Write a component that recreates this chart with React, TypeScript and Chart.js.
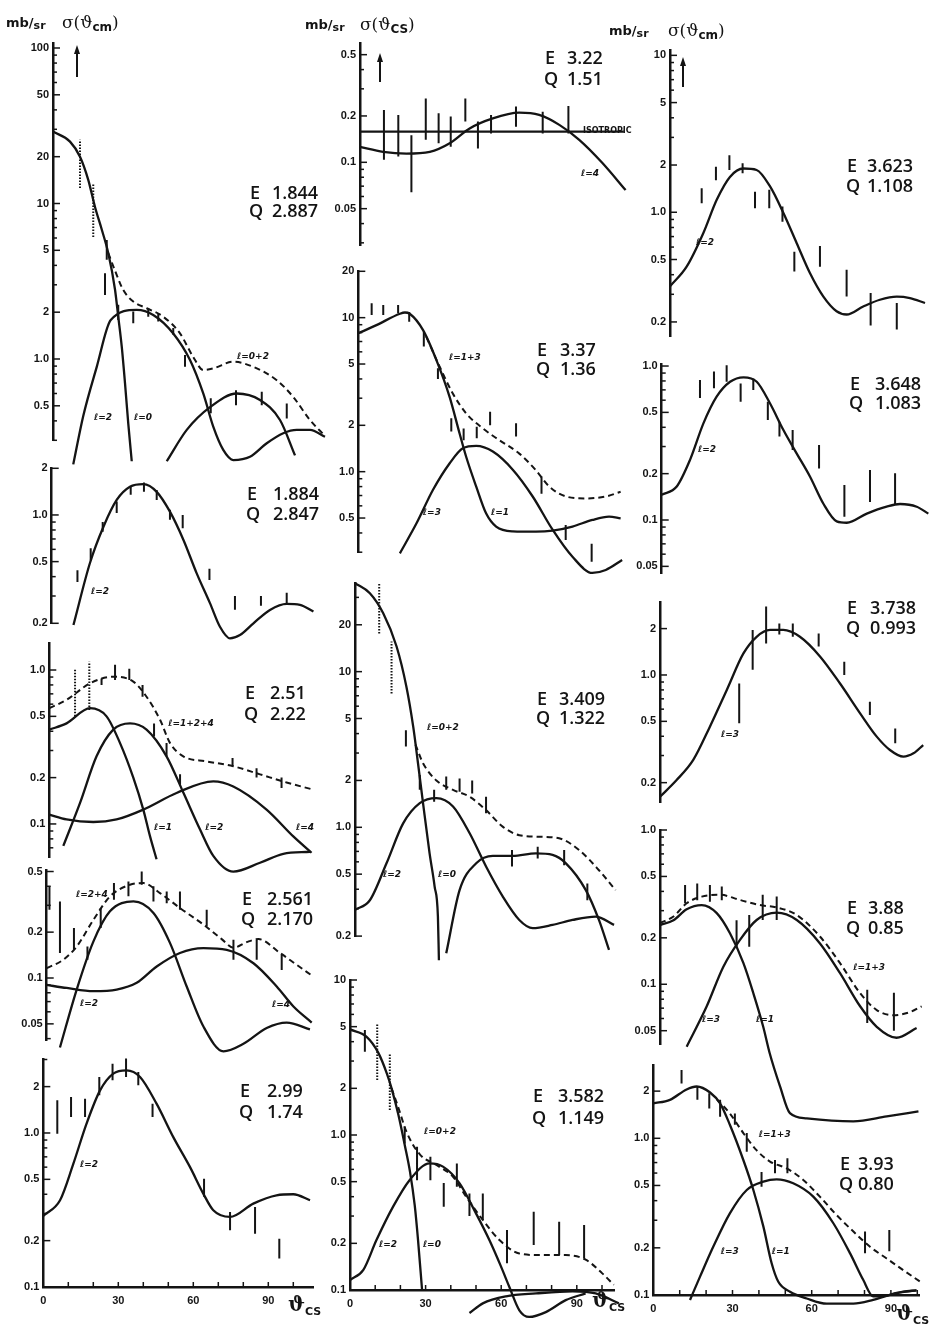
import React, { useEffect, useRef } from 'react';
import { Chart, registerables } from 'chart.js';
Chart.register(...registerables);

type Pt = number[];
type Err = number[];

// ---------- shared axis values ----------
const xTickVals = [0, 10, 20, 30, 40, 50, 60, 70, 80, 90, 100];
const xTickLabels = [0, 30, 60, 90];

// ---------- panel 1 : E 1.844 ----------
const p1_l0: Pt[] = [[0, 29], [6.8, 25], [10.8, 20], [14.1, 14.2], [16.8, 9.5], [19.5, 6.8], [22.1, 4.8], [24.8, 2.8], [26.1, 1.87], [27.5, 1.2], [28.8, 0.7], [30.1, 0.385], [31.5, 0.22]];
const p1_l2: Pt[] = [[8.1, 0.21], [12.1, 0.43], [17.5, 0.89], [23.1, 1.78], [33.5, 2.07], [40.1, 1.92], [48.1, 1.46], [54.8, 0.985], [60.1, 0.6], [64.1, 0.367], [68.1, 0.26], [72.1, 0.224], [78.8, 0.235], [85.5, 0.287], [92.1, 0.333], [97.5, 0.35], [102.8, 0.35], [108.8, 0.316]];
const p1_l0b: Pt[] = [[45.5, 0.22], [53.5, 0.35], [62.8, 0.49], [73.5, 0.6], [82.8, 0.545], [90.8, 0.405], [96.8, 0.24]];
const p1_sum: Pt[] = [[22.1, 4.8], [24.8, 3.7], [28.1, 2.78], [32.1, 2.34], [37.5, 2.12], [44.1, 1.87], [50.8, 1.46], [56.1, 1.03], [60.1, 0.85], [64.1, 0.87], [72.1, 0.96], [80.1, 0.89], [89.5, 0.73], [96.1, 0.57], [102.8, 0.405], [108.8, 0.32]];
const p1_errDot: Err[] = [[10.8, 12.6, 25.7], [16.1, 6.1, 13.5]];
const p1_err: Err[] = [[21.5, 4.34, 5.83], [20.8, 2.58, 3.56], [26.1, 1.78, 2.23], [32.1, 1.7, 2.02], [38.1, 1.87, 2.12], [42.1, 1.74, 1.97], [48.1, 1.43, 1.58], [52.8, 0.89, 1.06], [63.1, 0.447, 0.56], [73.2, 0.505, 0.63], [83.5, 0.505, 0.616], [93.5, 0.415, 0.518]];

// ---------- panel 2 : E 1.884 ----------
const p2_l2: Pt[] = [[8.7, 0.195], [15.3, 0.49], [20.7, 0.84], [26, 1.25], [31.3, 1.52], [36.7, 1.58], [42, 1.41], [47.3, 1.05], [52.7, 0.69], [58, 0.42], [63.3, 0.27], [67.3, 0.19], [71.3, 0.16], [75.3, 0.168], [80.7, 0.2], [87.3, 0.244], [94, 0.267], [99.3, 0.263], [104.7, 0.238]];
const p2_err: Err[] = [[10.3, 0.37, 0.44], [15.6, 0.51, 0.61], [20.4, 0.78, 0.9], [26, 1.03, 1.22], [31.6, 1.35, 1.52], [36.9, 1.41, 1.62], [42, 1.25, 1.45], [47.3, 0.93, 1.08], [52.4, 0.82, 1.0], [63.1, 0.38, 0.45], [73.3, 0.245, 0.3], [83.7, 0.26, 0.3], [94, 0.267, 0.315]];

// ---------- panel 3 : E 2.51 ----------
const p3_l1: Pt[] = [[0, 0.41], [6.9, 0.45], [16.3, 0.565], [22.9, 0.5], [28.3, 0.335], [33.6, 0.2], [37.6, 0.124], [40.3, 0.083], [42.9, 0.059]];
const p3_l2: Pt[] = [[5.6, 0.072], [12.3, 0.137], [18.9, 0.275], [25.6, 0.41], [32.3, 0.45], [38.9, 0.41], [46.9, 0.275], [53.6, 0.16], [60.3, 0.092], [65.6, 0.062], [73.6, 0.049], [84.3, 0.056], [93.6, 0.064], [104.3, 0.066]];
const p3_l4: Pt[] = [[0, 0.115], [6.9, 0.107], [17.6, 0.103], [26.9, 0.107], [37.6, 0.124], [50.9, 0.159], [65.6, 0.189], [73.6, 0.175], [86.9, 0.124], [97.6, 0.083], [104.9, 0.065]];
const p3_sum: Pt[] = [[0, 0.565], [6.9, 0.64], [16.3, 0.82], [25.6, 0.905], [33.6, 0.84], [38.9, 0.67], [44.3, 0.475], [48.3, 0.335], [53.6, 0.275], [62.9, 0.255], [73.6, 0.237], [84.3, 0.21], [94.9, 0.186], [105.6, 0.167]];
const p3_errDot: Err[] = [[10.3, 0.5, 1.02], [16, 0.55, 1.13]];
const p3_err: Err[] = [[20.9, 0.8, 0.88], [26.3, 0.86, 1.08], [32, 0.86, 1.02], [37.3, 0.67, 0.8], [41.9, 0.37, 0.45], [46.9, 0.275, 0.335], [52.3, 0.18, 0.21], [73.3, 0.237, 0.268], [82.9, 0.2, 0.23], [92.9, 0.171, 0.2]];

// ---------- panel 4 : E 2.561 ----------
const p4_l2: Pt[] = [[5.3, 0.035], [12, 0.084], [18.7, 0.174], [25.3, 0.274], [34.7, 0.318], [42.7, 0.267], [49.3, 0.17], [56, 0.088], [62.7, 0.048], [70.7, 0.033], [78.7, 0.037], [88, 0.047], [96, 0.051], [105.3, 0.046]];
const p4_l4: Pt[] = [[0, 0.09], [8, 0.086], [18.7, 0.082], [28, 0.084], [36, 0.093], [44, 0.119], [53.3, 0.146], [62.7, 0.157], [72, 0.153], [82.7, 0.125], [92, 0.088], [98.7, 0.065], [106, 0.051]];
const p4_sum: Pt[] = [[0, 0.116], [6.7, 0.132], [12, 0.161], [18.7, 0.241], [25.3, 0.343], [33.3, 0.409], [38.7, 0.42], [45.3, 0.361], [53.3, 0.288], [62.7, 0.224], [70, 0.18], [74.7, 0.158], [80, 0.172], [84.7, 0.18], [93.3, 0.146], [100, 0.122], [106, 0.104]];
const p4_err: Err[] = [[1.1, 0.28, 0.4], [5.3, 0.146, 0.318], [10.9, 0.153, 0.213], [16.3, 0.132, 0.161], [21.6, 0.213, 0.288], [26.9, 0.326, 0.42], [32.7, 0.344, 0.43], [38, 0.41, 0.5], [42.7, 0.318, 0.4], [48, 0.31, 0.37], [53.3, 0.28, 0.37], [64, 0.218, 0.281], [74.7, 0.132, 0.178], [84, 0.132, 0.178], [94, 0.113, 0.142]];

// ---------- panel 5 : E 2.99 ----------
const p5_l2: Pt[] = [[0, 0.29], [6.7, 0.366], [12, 0.63], [17.3, 1.15], [22.7, 1.89], [28, 2.43], [33.3, 2.55], [38.7, 2.31], [45.3, 1.55], [52, 0.94], [58.7, 0.6], [64, 0.404], [68, 0.315], [74.7, 0.285], [84, 0.348], [93.3, 0.394], [100, 0.4], [106.7, 0.366]];
const p5_err: Err[] = [[5.6, 0.99, 1.63], [11.1, 1.27, 1.71], [16.7, 1.27, 1.67], [22.4, 1.76, 2.31], [27.7, 2.2, 2.82], [33.1, 2.31, 3.04], [38, 2.04, 2.49], [43.7, 1.27, 1.55], [64.3, 0.385, 0.505], [74.7, 0.234, 0.307], [84.7, 0.222, 0.331], [94.4, 0.153, 0.206]];

// ---------- panel 6 : E 3.22 ----------
const p6_l4: Pt[] = [[0, 0.126], [9.2, 0.117], [18.4, 0.114], [27.7, 0.117], [35.6, 0.133], [43.5, 0.166], [52.7, 0.193], [63.2, 0.21], [71.1, 0.203], [79.1, 0.175], [87, 0.14], [96.2, 0.099], [105.4, 0.066]];
const p6_iso: Pt[] = [[0, 0.158], [104.7, 0.158]];
const p6_err: Err[] = [[9.5, 0.104, 0.219], [15.2, 0.109, 0.203], [20.4, 0.064, 0.15], [26.1, 0.14, 0.26], [31.2, 0.133, 0.208], [36, 0.126, 0.198], [41.8, 0.184, 0.26], [46.8, 0.123, 0.184], [52, 0.154, 0.203], [61.9, 0.17, 0.23], [72.5, 0.154, 0.213], [82.7, 0.154, 0.232]];

// ---------- panel 7 : E 3.37 ----------
const p7_l1: Pt[] = [[0, 7.92], [7.2, 8.94], [16.5, 10.6], [18.5, 10.8], [20.4, 10.6], [25.7, 8.3], [31, 5.3], [36.2, 3.07], [40.2, 1.77], [42.8, 1.25], [46.8, 0.8], [50.7, 0.537], [54.7, 0.44], [61.3, 0.41], [70.5, 0.408], [77.1, 0.414], [85, 0.44], [92.9, 0.486], [99.5, 0.51], [104.1, 0.498]];
const p7_l3: Pt[] = [[16.5, 0.295], [23.1, 0.462], [29.6, 0.76], [36.2, 1.13], [41.5, 1.42], [46.8, 1.47], [53.4, 1.35], [61.3, 1.03], [69.2, 0.69], [77.1, 0.42], [85, 0.28], [92.9, 0.22], [98.2, 0.23], [104.7, 0.267]];
const p7_sum: Pt[] = [[27, 7.5], [32.3, 4.8], [37.5, 3.22], [42.8, 2.39], [49.4, 1.91], [56, 1.6], [63.9, 1.31], [70.5, 1.02], [75.8, 0.8], [82.4, 0.69], [90.3, 0.67], [98.2, 0.69], [104.1, 0.74]];
const p7_err: Err[] = [[5.3, 10.4, 12.4], [9.9, 10.4, 12.1], [15.8, 10.7, 12.1], [20.2, 9.4, 10.9], [26, 6.5, 8.1], [31.6, 4.0, 4.7], [36.9, 1.82, 2.22], [41.8, 1.6, 1.91], [47, 1.65, 1.96], [52.3, 2.0, 2.45], [62.6, 1.69, 2.06], [72.7, 0.72, 0.93], [82.3, 0.36, 0.45], [92.6, 0.26, 0.34]];

// ---------- panel 8 : E 3.409 ----------
const p8_l0: Pt[] = [[0, 37], [5.9, 31.9], [11.2, 23.7], [16.5, 14.5], [20.4, 8.0], [23.1, 4.43], [25, 2.58], [27, 1.43], [29.6, 0.68], [31.6, 0.416], [32.9, 0.267], [33.3, 0.14]];
const p8_l2: Pt[] = [[0, 0.295], [5.9, 0.34], [12.5, 0.587], [19.1, 1.06], [25.7, 1.43], [32.3, 1.54], [38.9, 1.36], [45.5, 0.915], [52, 0.56], [58.6, 0.36], [65.2, 0.254], [70.5, 0.225], [78.4, 0.236], [86.3, 0.254], [95.5, 0.267], [102.8, 0.236]];
const p8_l0b: Pt[] = [[36.2, 0.155], [41.5, 0.395], [48.1, 0.587], [54.7, 0.655], [62.6, 0.655], [71.8, 0.68], [78.4, 0.665], [83.7, 0.587], [91.6, 0.395], [96.8, 0.254], [100.8, 0.163]];
const p8_sum: Pt[] = [[24, 3.4], [27, 2.58], [32.3, 2.0], [38.9, 1.74], [45.5, 1.57], [52, 1.29], [58.6, 1.01], [65.2, 0.89], [73.1, 0.87], [81, 0.85], [88.9, 0.715], [96.8, 0.53], [103.4, 0.395]];
const p8_errDot: Err[] = [[9.6, 17.6, 37], [14.5, 7.25, 15.6]];
const p8_err: Err[] = [[20.2, 3.3, 4.2], [25.7, 1.74, 2.17], [31.4, 1.46, 1.74], [36.2, 1.74, 2.12], [41.5, 1.69, 2.06], [46.5, 1.65, 2.0], [52, 1.23, 1.57], [62.3, 0.56, 0.715], [72.5, 0.63, 0.75], [83, 0.57, 0.715], [92.2, 0.34, 0.436]];

// ---------- panel 9 : E 3.582 ----------
const p9_l0: Pt[] = [[0, 4.8], [6.6, 4.3], [11.2, 3.4], [14.6, 2.5], [16.5, 2.0], [19.2, 1.35], [21.8, 0.85], [23.8, 0.58], [25.7, 0.35], [27, 0.21], [28.6, 0.1]];
const p9_l2: Pt[] = [[0, 0.116], [5.3, 0.135], [10.5, 0.21], [17.1, 0.345], [23.7, 0.513], [31.6, 0.656], [36.9, 0.625], [43.5, 0.488], [50, 0.312], [55.3, 0.21], [59.9, 0.142], [63.2, 0.105], [67.2, 0.074], [71.1, 0.067], [77.7, 0.072], [85.6, 0.086], [93.5, 0.095]];
const p9_l0b: Pt[] = [[47.4, 0.071], [52.7, 0.082], [61.9, 0.091], [73.8, 0.095], [88.3, 0.098], [97.5, 0.095], [106.7, 0.082]];
const p9_sum: Pt[] = [[16.5, 2.0], [19.2, 1.5], [22.4, 1.05], [27.7, 0.75], [34.3, 0.64], [40.8, 0.54], [46.1, 0.4], [52.7, 0.283], [59.3, 0.21], [67.2, 0.172], [75.1, 0.168], [85.6, 0.168], [93.5, 0.157], [100.1, 0.128], [104.7, 0.108]];
const p9_errDot: Err[] = [[10.8, 2.26, 5.25], [15.8, 1.45, 3.36]];
const p9_err: Err[] = [[5.9, 3.45, 4.76], [21.7, 0.88, 1.13], [26.6, 0.51, 0.84], [31.9, 0.51, 0.725], [37.2, 0.345, 0.49], [42.4, 0.464, 0.656], [47.4, 0.3, 0.42], [52.7, 0.283, 0.42], [62.3, 0.149, 0.244], [72.9, 0.195, 0.32], [83, 0.168, 0.276], [92.9, 0.16, 0.263]];

// ---------- panel 10 : E 3.623 ----------
const p10_l2: Pt[] = [[0, 0.337], [6.3, 0.45], [12.6, 0.735], [17.7, 1.2], [22.7, 1.68], [27.8, 1.9], [32.8, 1.86], [37.9, 1.46], [43, 0.985], [48, 0.635], [53, 0.41], [58.1, 0.29], [63.1, 0.234], [66.9, 0.223], [73.2, 0.251], [79.5, 0.277], [85.9, 0.29], [90.9, 0.284], [96.6, 0.264]];
const p10_err: Err[] = [[12, 1.14, 1.42], [17.4, 1.6, 1.95], [22.5, 1.86, 2.31], [27.5, 1.77, 2.05], [32.2, 1.06, 1.35], [37.6, 1.06, 1.39], [42.6, 0.87, 1.09], [47.1, 0.42, 0.56], [56.8, 0.45, 0.61], [66.9, 0.29, 0.43], [76, 0.19, 0.306], [85.9, 0.179, 0.264]];

// ---------- panel 11 : E 3.648 ----------
const p11_l2: Pt[] = [[0, 0.146], [5.7, 0.165], [10.7, 0.245], [15.8, 0.424], [20.8, 0.632], [25.9, 0.79], [31, 0.845], [36, 0.79], [41, 0.573], [46.1, 0.384], [51.1, 0.271], [56.2, 0.191], [61.2, 0.128], [66.3, 0.098], [70.1, 0.096], [77.7, 0.11], [85.2, 0.122], [90.3, 0.127], [96.6, 0.122], [101, 0.11]];
const p11_err: Err[] = [[14.5, 0.62, 0.81], [19.8, 0.716, 0.92], [24.6, 0.79, 1.01], [29.9, 0.587, 0.77], [34.7, 0.7, 0.83], [40.2, 0.446, 0.587], [44.6, 0.348, 0.435], [49.6, 0.285, 0.384], [59.6, 0.216, 0.307], [69.2, 0.105, 0.169], [78.9, 0.131, 0.211], [88.4, 0.125, 0.201]];

// ---------- panel 12 : E 3.738 ----------
const p12_l3: Pt[] = [[0, 0.162], [6.3, 0.208], [12.6, 0.281], [18.9, 0.462], [25.3, 0.8], [31.6, 1.38], [36.6, 1.77], [41.7, 1.96], [46.7, 1.96], [53, 1.77], [60.6, 1.32], [68.2, 0.88], [75.8, 0.564], [82.1, 0.398], [87.1, 0.326], [92.2, 0.295], [96, 0.31], [99.7, 0.351]];
const p12_err: Err[] = [[30, 0.486, 0.88], [35.1, 1.08, 1.96], [40.2, 1.6, 2.78], [45.2, 1.83, 2.16], [50.3, 1.77, 2.16], [60.1, 1.53, 1.86], [69.8, 1.0, 1.22], [79.5, 0.55, 0.67], [89.1, 0.36, 0.45]];

// ---------- panel 13 : E 3.88 ----------
const p13_l1: Pt[] = [[0, 0.242], [5.1, 0.26], [10.1, 0.306], [15.8, 0.326], [21.5, 0.289], [26.5, 0.214], [31.6, 0.137], [35.4, 0.087], [39.1, 0.053], [41.5, 0.036], [45.5, 0.0217], [49.2, 0.0146], [55.6, 0.0135], [73.2, 0.0129], [85.9, 0.0139], [97.9, 0.015]];
const p13_l3: Pt[] = [[10.1, 0.0394], [17.7, 0.072], [24, 0.13], [30.3, 0.194], [36.6, 0.261], [44.2, 0.291], [51.8, 0.261], [60.6, 0.184], [68.2, 0.118], [75.8, 0.072], [82.1, 0.053], [89.6, 0.045], [97.2, 0.052]];
const p13_sum: Pt[] = [[0, 0.249], [5.1, 0.275], [10.1, 0.335], [15.8, 0.37], [22.7, 0.38], [30.3, 0.352], [37.9, 0.326], [44.2, 0.315], [51.8, 0.281], [60.6, 0.204], [68.2, 0.137], [75.8, 0.0875], [82.1, 0.068], [88.4, 0.063], [94.7, 0.066], [99.1, 0.072]];
const p13_err: Err[] = [[9.5, 0.335, 0.44], [14.1, 0.35, 0.45], [18.9, 0.343, 0.44], [23.4, 0.35, 0.43], [29, 0.175, 0.26], [33.8, 0.175, 0.281], [38.9, 0.261, 0.38], [44.2, 0.261, 0.37], [78.5, 0.056, 0.092], [88.6, 0.05, 0.088]];

// ---------- panel 14 : E 3.93 ----------
const p14_l1: Pt[] = [[0, 1.67], [6.3, 1.76], [12.6, 2.05], [16.4, 2.14], [21.5, 1.96], [25.3, 1.67], [29, 1.22], [34.1, 0.727], [37.9, 0.468], [41.7, 0.273], [44.8, 0.16], [47.3, 0.122], [51.8, 0.105], [58.1, 0.095], [65.7, 0.088], [75.8, 0.088], [83.3, 0.093], [92.2, 0.103], [99.7, 0.107]];
const p14_l3: Pt[] = [[13.9, 0.093], [17.7, 0.131], [22.7, 0.203], [29, 0.332], [35.4, 0.468], [41.7, 0.529], [46.7, 0.547], [53, 0.516], [60.6, 0.424], [68.2, 0.287], [74.5, 0.185], [79.5, 0.125], [83.3, 0.098], [88.4, 0.099], [94.7, 0.105], [99.7, 0.107]];
const p14_sum: Pt[] = [[24, 1.78], [29, 1.44], [34.1, 1.08], [39.1, 0.84], [44.2, 0.71], [50.5, 0.643], [56.8, 0.542], [63.1, 0.424], [69.4, 0.324], [75.8, 0.254], [82.1, 0.203], [88.4, 0.171], [94.7, 0.144], [101, 0.122]];
const p14_err: Err[] = [[10.7, 2.24, 2.73], [16.7, 1.76, 2.14], [21.2, 1.55, 1.94], [25.3, 1.37, 1.76], [30.9, 1.22, 1.44], [35.4, 0.82, 1.08], [41, 0.49, 0.61], [46.1, 0.598, 0.727], [50.8, 0.598, 0.745], [80.2, 0.185, 0.254], [89.4, 0.19, 0.26]];

// ---------- E / Q values ----------
const energies = ['1.844', '1.884', '2.51', '2.561', '2.99', '3.22', '3.37', '3.409', '3.582', '3.623', '3.648', '3.738', '3.88', '3.93'];
const qValues = ['2.887', '2.847', '2.22', '2.170', '1.74', '1.51', '1.36', '1.322', '1.149', '1.108', '1.083', '0.993', '0.85', '0.80'];

// ---------- y tick labels ----------
const yl_p1: [number, string][] = [[100, '100'], [50, '50'], [20, '20'], [10, '10'], [5, '5'], [2, '2'], [1, '1.0'], [0.5, '0.5']];
const yl_2to02: [number, string][] = [[2, '2'], [1, '1.0'], [0.5, '0.5'], [0.2, '0.2']];
const yl_1to01: [number, string][] = [[1, '1.0'], [0.5, '0.5'], [0.2, '0.2'], [0.1, '0.1']];
const yl_05to005: [number, string][] = [[0.5, '0.5'], [0.2, '0.2'], [0.1, '0.1'], [0.05, '0.05']];
const yl_2to01: [number, string][] = [[2, '2'], [1, '1.0'], [0.5, '0.5'], [0.2, '0.2'], [0.1, '0.1']];
const yl_20to05: [number, string][] = [[20, '20'], [10, '10'], [5, '5'], [2, '2'], [1, '1.0'], [0.5, '0.5']];
const yl_20to02: [number, string][] = [[20, '20'], [10, '10'], [5, '5'], [2, '2'], [1, '1.0'], [0.5, '0.5'], [0.2, '0.2']];
const yl_10to01: [number, string][] = [[10, '10'], [5, '5'], [2, '2'], [1, '1.0'], [0.5, '0.5'], [0.2, '0.2'], [0.1, '0.1']];
const yl_10to02: [number, string][] = [[10, '10'], [5, '5'], [2, '2'], [1, '1.0'], [0.5, '0.5'], [0.2, '0.2']];
const yl_1to005: [number, string][] = [[1, '1.0'], [0.5, '0.5'], [0.2, '0.2'], [0.1, '0.1'], [0.05, '0.05']];

type Lab = [string, number, number, string?];
interface PanelCfg {
  left: number; top: number; bottom: number; ppd: number; xmax: number;
  ymin: number; ymax: number; yLabels: [number, string][]; xAxis: boolean;
  solid: Pt[][]; dashed: Pt[][]; err: Err[]; errDot: Err[]; labels: Lab[];
  eq: number[]; idx: number; below?: number;
}

const panels: PanelCfg[] = [
  { idx: 0, left: 53, top: 42.8, bottom: 440.3, ppd: 2.5, xmax: 108, ymin: 0.3, ymax: 108, yLabels: yl_p1, xAxis: false,
    solid: [p1_l0, p1_l2, p1_l0b], dashed: [p1_sum], err: p1_err, errDot: p1_errDot,
    labels: [['ℓ=2', 20, 0.42], ['ℓ=0', 36, 0.42], ['ℓ=0+2', 80, 1.03]], eq: [250, 272, 192, 210] },
  { idx: 1, left: 51.7, top: 468.3, bottom: 623.3, ppd: 2.5, xmax: 108, ymin: 0.2, ymax: 2, yLabels: yl_2to02, xAxis: false,
    solid: [p2_l2], dashed: [], err: p2_err, errDot: [],
    labels: [['ℓ=2', 19.3, 0.32]], eq: [247, 273, 493, 513] },
  { idx: 2, left: 49.3, top: 642.9, bottom: 857, ppd: 2.5, xmax: 108, ymin: 0.061, ymax: 1.5, yLabels: yl_1to01, xAxis: false,
    solid: [p3_l1, p3_l2, p3_l4], dashed: [p3_sum], err: p3_err, errDot: p3_errDot,
    labels: [['ℓ=1+2+4', 56.7, 0.45], ['ℓ=1', 45.5, 0.094], ['ℓ=2', 66, 0.094], ['ℓ=4', 102.3, 0.094]], eq: [245, 270, 692, 713] },
  { idx: 3, left: 46.7, top: 870.2, bottom: 1040.3, ppd: 2.5, xmax: 108, ymin: 0.039, ymax: 0.51, yLabels: yl_05to005, xAxis: false,
    solid: [p4_l2, p4_l4], dashed: [p4_sum], err: p4_err, errDot: [],
    labels: [['ℓ=2+4', 18.1, 0.351], ['ℓ=2', 16.9, 0.0675], ['ℓ=4', 93.7, 0.0665]], eq: [242, 267, 898, 918] },
  { idx: 4, left: 43.3, top: 1059.5, bottom: 1287, ppd: 2.5, xmax: 108, ymin: 0.1, ymax: 3, yLabels: yl_2to01, xAxis: true,
    solid: [p5_l2], dashed: [], err: p5_err, errDot: [],
    labels: [['ℓ=2', 18.3, 0.62]], eq: [240, 267, 1090, 1111] },
  { idx: 5, left: 360, top: 43.6, bottom: 245.1, ppd: 2.52, xmax: 105, ymin: 0.029, ymax: 0.59, yLabels: yl_05to005, xAxis: false,
    solid: [p6_l4, p6_iso], dashed: [], err: p6_err, errDot: [],
    labels: [['ℓ=4', 91.3, 0.085], ['ISOTROPIC', 88.5, 0.158, 'iso']], eq: [545, 567, 57, 78] },
  { idx: 6, left: 358.3, top: 271.3, bottom: 552.2, ppd: 2.52, xmax: 105, ymin: 0.3, ymax: 20, yLabels: yl_20to05, xAxis: false,
    solid: [p7_l1, p7_l3], dashed: [p7_sum], err: p7_err, errDot: [],
    labels: [['ℓ=1+3', 42.3, 5.47], ['ℓ=3', 29.2, 0.54], ['ℓ=1', 56.2, 0.54]], eq: [537, 560, 349, 368] },
  { idx: 7, left: 355, top: 583.2, bottom: 936.1, ppd: 2.52, xmax: 105, ymin: 0.2, ymax: 37, yLabels: yl_20to02, xAxis: false,
    solid: [p8_l0, p8_l2, p8_l0b], dashed: [p8_sum], err: p8_err, errDot: p8_errDot,
    labels: [['ℓ=0+2', 34.9, 4.34], ['ℓ=2', 14.7, 0.5], ['ℓ=0', 36.5, 0.5]], eq: [537, 559, 698, 717] },
  { idx: 8, left: 350, top: 980, bottom: 1290, ppd: 2.52, xmax: 105, ymin: 0.1, ymax: 10, yLabels: yl_10to01, xAxis: true,
    solid: [p9_l0, p9_l2, p9_l0b], dashed: [p9_sum], err: p9_err, errDot: p9_errDot,
    labels: [['ℓ=0+2', 35.7, 1.05], ['ℓ=2', 15.1, 0.195], ['ℓ=0', 32.5, 0.195]], eq: [533, 558, 1095, 1117] },
  { idx: 9, left: 670, top: 50.1, bottom: 336.3, ppd: 2.64, xmax: 101, ymin: 0.162, ymax: 10.8, yLabels: yl_10to02, xAxis: false,
    solid: [p10_l2], dashed: [], err: p10_err, errDot: [],
    labels: [['ℓ=2', 13.3, 0.64]], eq: [847, 867, 165, 185] },
  { idx: 10, left: 661.7, top: 364.7, bottom: 573.4, ppd: 2.64, xmax: 101, ymin: 0.045, ymax: 1.02, yLabels: yl_1to005, xAxis: false,
    solid: [p11_l2], dashed: [], err: p11_err, errDot: [],
    labels: [['ℓ=2', 17.2, 0.285]], eq: [850, 875, 383, 402] },
  { idx: 11, left: 660, top: 602.6, bottom: 802.8, ppd: 2.64, xmax: 101, ymin: 0.148, ymax: 2.95, yLabels: yl_2to02, xAxis: false,
    solid: [p12_l3], dashed: [], err: p12_err, errDot: [],
    labels: [['ℓ=3', 26.5, 0.41]], eq: [847, 870, 607, 627] },
  { idx: 12, left: 660, top: 830, bottom: 1044, ppd: 2.64, xmax: 101, ymin: 0.041, ymax: 1.0, yLabels: yl_1to005, xAxis: false,
    solid: [p13_l1, p13_l3], dashed: [p13_sum], err: p13_err, errDot: [], below: 100,
    labels: [['ℓ=1+3', 79.2, 0.129], ['ℓ=3', 19.3, 0.0587], ['ℓ=1', 39.8, 0.0587]], eq: [847, 868, 907, 927] },
  { idx: 13, left: 653.3, top: 1064.9, bottom: 1295, ppd: 2.64, xmax: 101, ymin: 0.1, ymax: 2.94, yLabels: yl_2to01, xAxis: true,
    solid: [p14_l1, p14_l3], dashed: [p14_sum], err: p14_err, errDot: [],
    labels: [['ℓ=1+3', 46, 1.05], ['ℓ=3', 29, 0.188], ['ℓ=1', 48.3, 0.188]], eq: [840, 858, 1163, 1183] },
];

const INK = '#141414';

function logTicks(min: number, max: number) {
  const out: number[] = [];
  for (let e = Math.floor(Math.log10(min)); e <= Math.ceil(Math.log10(max)); e++) {
    for (let m = 1; m <= 9; m++) {
      const v = +(m * Math.pow(10, e)).toPrecision(6);
      if (v >= min * 0.999 && v <= max * 1.001) out.push(v);
    }
  }
  return out;
}
const findLabel = (list: [number, string][], v: number) => {
  const f = list.find(([lv]) => Math.abs(lv - v) / lv < 1e-6);
  return f ? f[1] : '';
};
const toXY = (c: Pt[]) => c.map(([x, y]) => ({ x, y }));
const toBars = (e: Err[]) => e.flatMap(([x, lo, hi]) => [{ x, y: lo }, { x, y: hi }, { x, y: null as any }]);

function Panel({ cfg }: { cfg: PanelCfg }) {
  const ref = useRef<HTMLCanvasElement>(null);
  const cl = Math.round(cfg.left - 40);
  const ct = Math.round(cfg.top - 14);
  const padL = cfg.left - cl;
  const padT = cfg.top - ct;
  const plotW = cfg.xmax * cfg.ppd;
  const plotH = cfg.bottom - cfg.top;
  const xh = cfg.xAxis ? 26 : 0;
  const W = Math.ceil(padL + plotW + 30);
  const H = Math.ceil(padT + plotH + xh + (cfg.xAxis ? 8 : (cfg.below || 44)));
  const padR = W - padL - plotW;
  const padB = H - padT - plotH - xh;

  useEffect(() => {
    if (!ref.current) return;
    const ds: any[] = [];
    const base = { borderColor: INK, pointRadius: 0, clip: false, fill: false };
    cfg.solid.forEach(c => ds.push({ ...base, data: toXY(c), borderWidth: 2.3, cubicInterpolationMode: 'monotone' }));
    cfg.dashed.forEach(c => ds.push({ ...base, data: toXY(c), borderWidth: 2, borderDash: [6, 4], cubicInterpolationMode: 'monotone' }));
    ds.push({ ...base, data: toBars(cfg.err), borderWidth: 2, tension: 0, spanGaps: false });
    if (cfg.errDot.length) ds.push({ ...base, data: toBars(cfg.errDot), borderWidth: 2, borderDash: [1.5, 1.5], tension: 0, spanGaps: false });

    const annot = {
      id: 'annot',
      afterDraw(chart: any) {
        const { ctx, chartArea, scales } = chart;
        const x = scales.x, y = scales.y;
        ctx.save();
        ctx.strokeStyle = INK;
        ctx.lineWidth = 1.5;
        y.ticks.forEach((t: any) => {
          const py = y.getPixelForValue(t.value);
          const len = findLabel(cfg.yLabels, t.value) ? 7 : 4;
          ctx.beginPath(); ctx.moveTo(chartArea.left, py); ctx.lineTo(chartArea.left + len, py); ctx.stroke();
        });
        if (cfg.xAxis) {
          x.ticks.forEach((t: any) => {
            const px = x.getPixelForValue(t.value);
            ctx.beginPath(); ctx.moveTo(px, chartArea.bottom); ctx.lineTo(px, chartArea.bottom - 5); ctx.stroke();
          });
        }
        ctx.fillStyle = INK;
        cfg.labels.forEach(([txt, lx, ly, kind]) => {
          const px = x.getPixelForValue(lx), py = y.getPixelForValue(ly);
          if (kind === 'iso') {
            ctx.font = 'bold 8px "DejaVu Sans", sans-serif';
            ctx.textAlign = 'left'; ctx.textBaseline = 'alphabetic';
            ctx.fillText(txt, px, py + 1);
          } else {
            ctx.font = 'italic bold 9px "DejaVu Sans", sans-serif';
            ctx.textAlign = 'center'; ctx.textBaseline = 'middle';
            ctx.fillText(txt, px, py);
          }
        });
        ctx.restore();
      },
    };

    const chart = new Chart(ref.current, {
      type: 'line',
      data: { datasets: ds },
      options: {
        responsive: false,
        animation: false,
        devicePixelRatio: 1,
        events: [],
        layout: { padding: { left: 0, top: padT, right: padR, bottom: padB } },
        plugins: { legend: { display: false }, tooltip: { enabled: false } },
        scales: {
          x: {
            type: 'linear', min: 0, max: cfg.xmax, display: cfg.xAxis,
            grid: { display: false, drawTicks: false },
            border: { display: true, color: INK, width: 2.5 },
            afterBuildTicks: (s: any) => { s.ticks = xTickVals.filter(v => v <= cfg.xmax).map(v => ({ value: v })); },
            afterFit: (s: any) => { s.height = xh; },
            ticks: {
              autoSkip: false, maxRotation: 0, padding: 7, color: INK,
              font: { family: '"Liberation Sans", sans-serif', weight: 'bold', size: 11 },
              callback: (v: any) => (xTickLabels.includes(Number(v)) ? String(v) : ''),
            },
          },
          y: {
            type: 'logarithmic', min: cfg.ymin, max: cfg.ymax,
            grid: { display: false, drawTicks: false },
            border: { display: true, color: INK, width: 2.5 },
            afterBuildTicks: (s: any) => { s.ticks = logTicks(cfg.ymin, cfg.ymax).map(v => ({ value: v })); },
            afterFit: (s: any) => { s.width = padL; },
            ticks: {
              autoSkip: false, padding: 4, color: INK,
              font: { family: '"Liberation Sans", sans-serif', weight: 'bold', size: 11 },
              callback: (v: any) => findLabel(cfg.yLabels, Number(v)),
            },
          },
        },
      } as any,
      plugins: [annot],
    });
    return () => chart.destroy();
  }, []);

  return (
    <canvas ref={ref} width={W} height={H}
      style={{ position: 'absolute', left: cl, top: ct, width: W, height: H }} />
  );
}

const eqFont: React.CSSProperties = { position: 'absolute', fontFamily: '"Open Sans", sans-serif', fontWeight: 600, fontSize: 18, lineHeight: '20px', color: INK, whiteSpace: 'nowrap' };
const hdrFont: React.CSSProperties = { position: 'absolute', fontFamily: '"DejaVu Sans", sans-serif', fontWeight: 700, fontSize: 14, lineHeight: '18px', color: INK, whiteSpace: 'nowrap' };

function EQ({ cfg }: { cfg: PanelCfg }) {
  const [xl, xn, ye, yq] = cfg.eq;
  return (
    <>
      <div style={{ ...eqFont, left: xl, top: ye - 10 }}>E</div>
      <div style={{ ...eqFont, left: xn, top: ye - 10 }}>{energies[cfg.idx]}</div>
      <div style={{ ...eqFont, left: xl - 1, top: yq - 10 }}>Q</div>
      <div style={{ ...eqFont, left: xn, top: yq - 10 }}>{qValues[cfg.idx]}</div>
    </>
  );
}

function Header({ x1, x2, y, sub }: { x1: number; x2: number; y: number; sub: string }) {
  return (
    <>
      <div style={{ ...hdrFont, left: x1, top: y - 9, fontSize: 13 }}>mb/<span style={{ fontSize: 11, position: 'relative', top: 2 }}>sr</span></div>
      <div style={{ ...hdrFont, left: x2, top: y - 10, fontSize: 17, fontWeight: 400, fontFamily: '"DejaVu Serif", serif' }}>
        σ(ϑ<span style={{ fontSize: 12, fontWeight: 700, fontFamily: '"DejaVu Sans", sans-serif', position: 'relative', top: 3 }}>{sub}</span>)
      </div>
    </>
  );
}

function Arrow({ x, y1, y2 }: { x: number; y1: number; y2: number }) {
  return (
    <>
      <div style={{ position: 'absolute', left: x - 1, top: y1 + 6, width: 2, height: y2 - y1 - 6, background: INK }} />
      <div style={{ position: 'absolute', left: x - 3.5, top: y1, width: 0, height: 0, borderLeft: '3.5px solid transparent', borderRight: '3.5px solid transparent', borderBottom: '9px solid ' + INK }} />
    </>
  );
}

function ThetaCS({ x, y }: { x: number; y: number }) {
  return (
    <div style={{ position: 'absolute', left: x, top: y, fontFamily: '"DejaVu Serif", serif', fontSize: 20, fontWeight: 700, color: INK, lineHeight: '22px', whiteSpace: 'nowrap' }}>
      ϑ<span style={{ fontFamily: '"DejaVu Sans", sans-serif', fontSize: 11, fontWeight: 700, position: 'relative', top: 4 }}>CS</span>
    </div>
  );
}

export default function App() {
  return (
    <div style={{ position: 'absolute', left: 0, top: 0, width: 929, height: 1330, background: '#fff', overflow: 'hidden' }}>
      {panels.map(p => <Panel key={p.idx} cfg={p} />)}
      {panels.map(p => <EQ key={'eq' + p.idx} cfg={p} />)}
      <Header x1={6} x2={62} y={23} sub="cm" />
      <Header x1={305} x2={360} y={25} sub="CS" />
      <Header x1={609} x2={668} y={31} sub="cm" />
      <Arrow x={77} y1={45} y2={77} />
      <Arrow x={380} y1={53} y2={82} />
      <Arrow x={683} y1={57} y2={87} />
      <ThetaCS x={288} y={1293} />
      <ThetaCS x={592} y={1289} />
      <ThetaCS x={896} y={1302} />
    </div>
  );
}
